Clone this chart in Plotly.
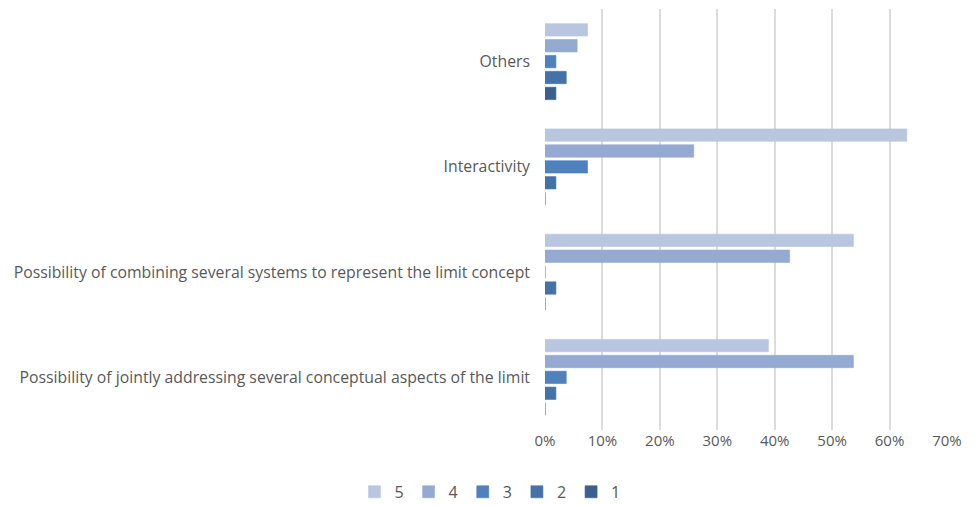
import plotly.graph_objects as go

# Categories listed bottom-to-top as they appear on the y axis
categories = [
    "Possibility of jointly addressing several conceptual aspects of the limit",
    "Possibility of combining several systems to represent the limit concept",
    "Interactivity",
    "Others",
]

# Share of responses per rating (fraction of respondents)
rating_5 = [0.389, 0.537, 0.630, 0.074]
rating_4 = [0.537, 0.426, 0.259, 0.056]
rating_3 = [0.037, 0.000, 0.074, 0.019]
rating_2 = [0.019, 0.019, 0.019, 0.037]
rating_1 = [0.000, 0.000, 0.000, 0.019]

series = [
    ("1", rating_1, "#3B5F8E"),
    ("2", rating_2, "#4472A8"),
    ("3", rating_3, "#4F81BD"),
    ("4", rating_4, "#95AAD2"),
    ("5", rating_5, "#B9C6E0"),
]

fig = go.Figure()
for name, vals, color in series:
    fig.add_trace(go.Bar(
        y=categories, x=vals, name=name, orientation="h",
        marker=dict(color=color, line=dict(color=color, width=0.6)),
    ))

font_color = "#595959"
fig.update_layout(
    barmode="group",
    bargap=0.245,
    bargroupgap=0.22,
    width=976, height=505,
    margin=dict(l=545, r=29, t=9, b=75),
    plot_bgcolor="white", paper_bgcolor="white",
    font=dict(family="Open Sans", size=15.8, color=font_color),
    legend=dict(
        orientation="h", traceorder="reversed",
        x=0.502, xanchor="center", xref="container",
        y=0.026, yanchor="middle", yref="container",
        font=dict(size=16, color=font_color),
        itemwidth=30,
    ),
    showlegend=True,
)
fig.update_xaxes(
    range=[0, 0.7], tickformat=".0%", dtick=0.1,
    showgrid=True, gridcolor="#DCDCDC", gridwidth=2,
    zeroline=False, showline=False, ticks="",
    automargin=False, tickangle=0,
    tickfont=dict(size=15, color=font_color),
)
fig.update_yaxes(
    showgrid=False, zeroline=False, showline=False, ticks="",
    automargin=False, ticklabelstandoff=14,
    tickfont=dict(size=15.8, color=font_color),
)

fig.write_html("out.html")
